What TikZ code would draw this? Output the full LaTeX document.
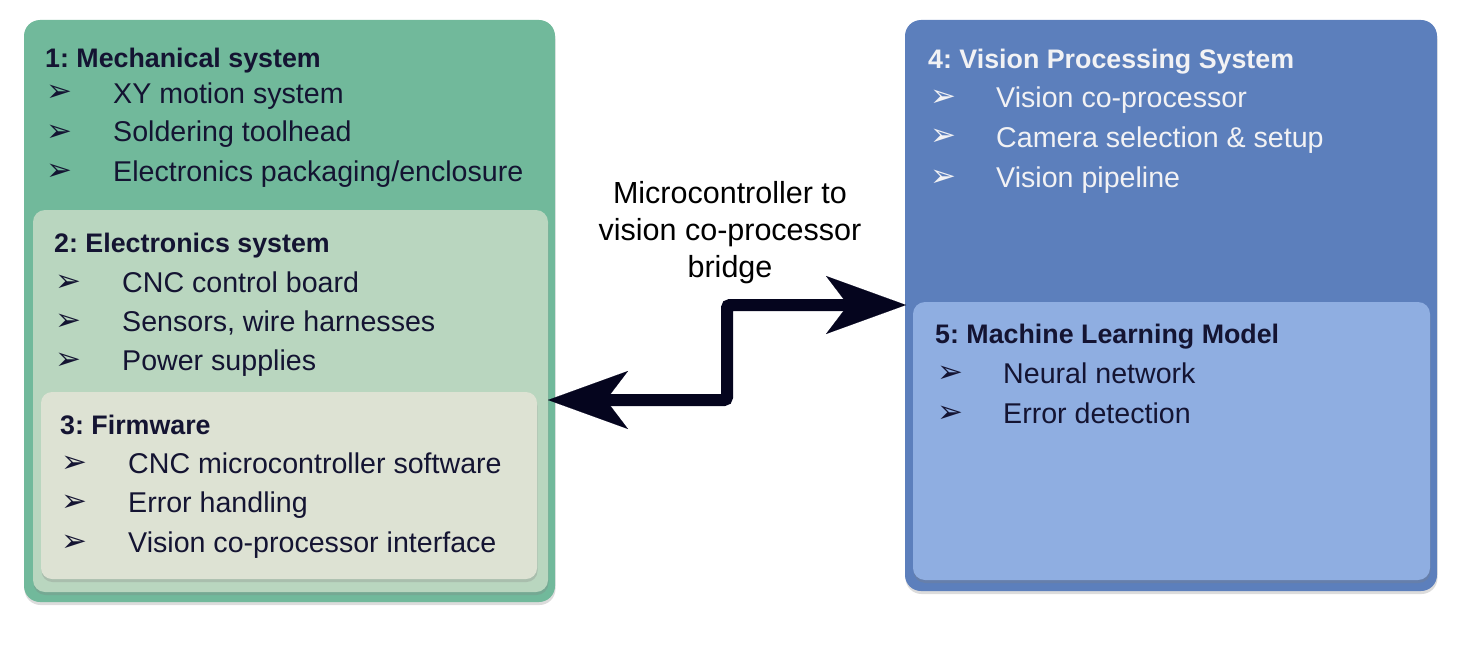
\documentclass[tikz,border=0pt]{standalone}
\usepackage{fontspec}
\setmainfont{Liberation Sans}
\newfontfamily\bulletfont{DejaVu Sans}
\usetikzlibrary{arrows.meta,shadows,calc,positioning}
\frenchspacing
\definecolor{greenout}{HTML}{71B99B}
\definecolor{greenmid}{HTML}{B9D6BF}
\definecolor{greenin}{HTML}{DDE2D3}
\definecolor{blueout}{HTML}{5C7FBC}
\definecolor{bluein}{HTML}{8FAEE1}
\definecolor{darktext}{HTML}{141432}
\definecolor{lighttext}{HTML}{F2F2F4}
\definecolor{arrowcol}{HTML}{05051E}
\tikzset{
  panel/.style={rectangle, anchor=north west, inner sep=0pt, outer sep=0pt,
    drop shadow={shadow xshift=0.5pt, shadow yshift=-3pt, opacity=0.28}},
  title/.style={anchor=base west, inner sep=0pt, font=\fontsize{26.8}{34}\selectfont\bfseries},
  item/.style={anchor=base west, inner sep=0pt, font=\fontsize{28.6}{34}\selectfont},
  bul/.style={anchor=base west, inner sep=0pt, font=\bulletfont\fontsize{31}{34}\selectfont},
  bridge/.style={line width=12pt, draw=arrowcol, rounded corners=3pt,
    {Stealth[length=80pt,width=58pt,inset=22pt,line width=0.1pt]}-{Stealth[length=80pt,width=58pt,inset=22pt,line width=0.1pt]}},
  blabel/.style={align=center, inner sep=0pt, font=\fontsize{30.5}{37}\selectfont, text=black}
}
\begin{document}
\begin{tikzpicture}[x=1pt,y=-1pt]
\useasboundingbox (0,0) rectangle (1466,650);
% left panels
\node[panel, fill=greenout, rounded corners=16pt, minimum width=531pt, minimum height=582pt] (mech) at (24,20) {};
\node[panel, fill=greenmid, rounded corners=12pt, minimum width=515pt, minimum height=382pt] (elec) at (33,210) {};
\node[panel, fill=greenin, rounded corners=11pt, minimum width=496pt, minimum height=187pt] (firm) at (41,392) {};
% right panels
\node[panel, fill=blueout, rounded corners=16pt, minimum width=532pt, minimum height=571pt] (vis) at (905,20) {};
\node[panel, fill=bluein, rounded corners=12pt, minimum width=517pt, minimum height=278pt] (ml) at (913,302) {};

% texts panel 1
\begin{scope}[text=darktext]
\node[title] (t1) at (45,68) {1: Mechanical system};
\node[bul] (b11) at (46,102) {➢}; \node[item] (i11) at (113,103) {XY motion system};
\node[bul] (b12) at (46,141) {➢}; \node[item] (i12) at (113,142) {Soldering toolhead};
\node[bul] (b13) at (46,180) {➢}; \node[item] (i13) at (113,181) {Electronics packaging/enclosure};
\node[title] (t2) at (54,252) {2: Electronics system};
\node[bul] (b21) at (55,291) {➢}; \node[item] (i21) at (122,292) {CNC control board};
\node[bul] (b22) at (55,330) {➢}; \node[item] (i22) at (122,331) {Sensors, wire harnesses};
\node[bul] (b23) at (55,369) {➢}; \node[item] (i23) at (122,370) {Power supplies};
\node[title] (t3) at (60,434) {3: Firmware};
\node[bul] (b31) at (61,472) {➢}; \node[item] (i31) at (128,473) {CNC microcontroller software};
\node[bul] (b32) at (61,511) {➢}; \node[item] (i32) at (128,512) {Error handling};
\node[bul] (b33) at (61,551) {➢}; \node[item] (i33) at (128,552) {Vision co-processor interface};
\end{scope}
% texts panel 4
\begin{scope}[text=lighttext]
\node[title] (t4) at (928,69) {4: Vision Processing System};
\node[bul] (b41) at (930,107) {➢}; \node[item] (i41) at (996,108) {Vision co-processor};
\node[bul] (b42) at (930,146) {➢}; \node[item] (i42) at (996,147) {Camera selection \& setup};
\node[bul] (b43) at (930,186) {➢}; \node[item] (i43) at (996,187) {Vision pipeline};
\end{scope}
\begin{scope}[text=darktext]
\node[title] (t5) at (935,343) {5: Machine Learning Model};
\node[bul] (b51) at (937,382) {➢}; \node[item] (i51) at (1003,383) {Neural network};
\node[bul] (b52) at (937,422) {➢}; \node[item] (i52) at (1003,423) {Error detection};
\end{scope}

% bridge
\node[blabel] (lbl) at (730,233) {Microcontroller to\\vision co-processor\\bridge};
\coordinate (la) at (548,400);
\coordinate (ra) at (906,305);
\draw[bridge] (la) -| ($(la)!0.5!(ra)$) |- (ra);
\end{tikzpicture}
\end{document}
